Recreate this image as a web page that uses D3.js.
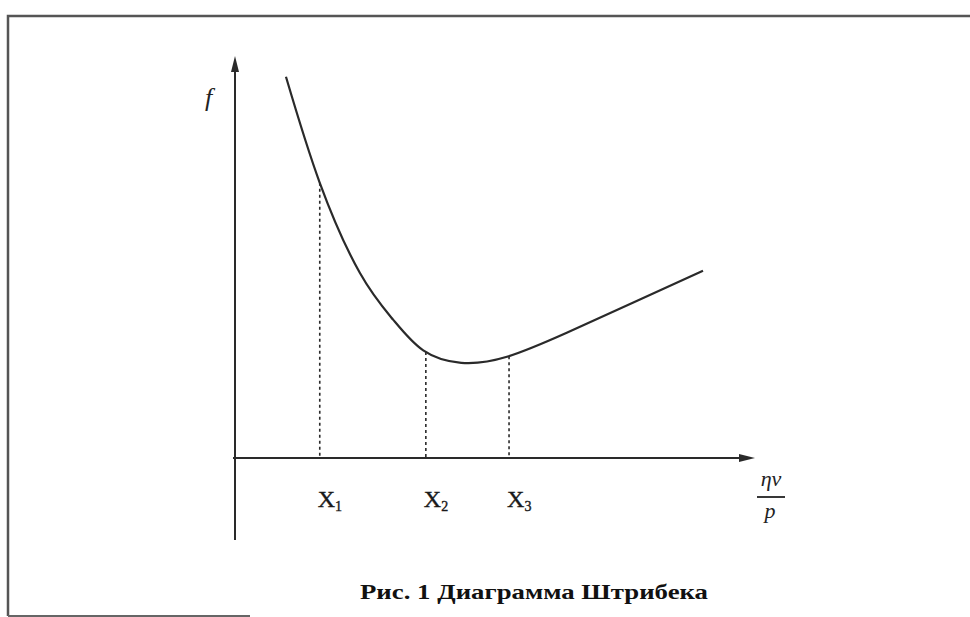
<!DOCTYPE html>
<html><head><meta charset="utf-8">
<script src="https://cdn.jsdelivr.net/npm/d3@7"></script>
<style>html,body{margin:0;padding:0;background:#fff;}svg{display:block;}</style>
</head><body>
<svg id="c" width="970" height="617"></svg>
<script>
// Curve data (ηv/p in arbitrary units 0..100, f in arbitrary units 0..100)
const curveX = [9.8, 16.3, 24.0, 30.4, 36.2, 43.5, 52.3, 63.8, 76.5, 90.0];
const curveF = [95.3, 68.8, 46.3, 34.6, 26.9, 23.8, 25.3, 31.3, 38.8, 46.8];
// Marked points
const markLabels = ["X", "X", "X"];
const markSubs = ["1", "2", "3"];
const markX = [16.3, 36.7, 52.7];
const yLabel = "f";
const xLabelTop = "ηv";
const xLabelBottom = "p";
const caption = "Рис. 1 Диаграмма Штрибека";

const serif = "'Liberation Serif', 'Times New Roman', 'DejaVu Serif', serif";
const svg = d3.select("#c");
const ink = "#2a2a2a";

// frame
svg.append("path").attr("d", "M8,616 L8,16 L970,16")
  .attr("fill", "none").attr("stroke", "#555").attr("stroke-width", 2.5);
svg.append("line").attr("x1", 8).attr("x2", 250).attr("y1", 616).attr("y2", 616)
  .attr("stroke", "#666").attr("stroke-width", 2);

const x = d3.scaleLinear().domain([0, 100]).range([235, 755]);
const y = d3.scaleLinear().domain([0, 100]).range([458, 58]);

// axes
svg.append("line").attr("x1", x(0)).attr("x2", x(0)).attr("y1", 540).attr("y2", y(100) + 8)
  .attr("stroke", ink).attr("stroke-width", 2);
svg.append("path").attr("d", `M${x(0)},${y(100) - 2} L${x(0) - 4},${y(100) + 14} L${x(0) + 4},${y(100) + 14} Z`).attr("fill", ink);
svg.append("line").attr("x1", x(0) - 2).attr("x2", x(100) - 10).attr("y1", y(0)).attr("y2", y(0))
  .attr("stroke", ink).attr("stroke-width", 2);
svg.append("path").attr("d", `M${x(100)},${y(0)} L${x(100) - 16},${y(0) - 4} L${x(100) - 16},${y(0) + 4} Z`).attr("fill", ink);

// curve
const pts = curveX.map((v, i) => [x(v), y(curveF[i])]);
const curvePath = svg.append("path").attr("d", d3.line().curve(d3.curveNatural)(pts))
  .attr("fill", "none").attr("stroke", ink).attr("stroke-width", 2.2);

// find curve y at a given pixel x
function curveYAt(px) {
  const node = curvePath.node();
  const L = node.getTotalLength();
  let lo = 0, hi = L;
  for (let k = 0; k < 40; k++) {
    const mid = (lo + hi) / 2;
    if (node.getPointAtLength(mid).x < px) lo = mid; else hi = mid;
  }
  return node.getPointAtLength(lo).y;
}

// dashed markers
markX.forEach((mx, i) => {
  svg.append("line").attr("x1", x(mx)).attr("x2", x(mx)).attr("y1", curveYAt(x(mx))).attr("y2", y(0))
    .attr("stroke", ink).attr("stroke-width", 1.6).attr("stroke-dasharray", "3,3");
  const t = svg.append("text").attr("x", x(mx) - 2).attr("y", 507)
    .attr("font-family", serif).attr("font-size", 24).attr("fill", "#1a1a1a")
    .attr("stroke", "#1a1a1a").attr("stroke-width", 0.4);
  t.append("tspan").text(markLabels[i]);
  t.append("tspan").attr("font-size", 14).attr("dy", 4).text(markSubs[i]);
});

// axis labels
svg.append("text").attr("x", 205).attr("y", 106).attr("font-family", serif)
  .attr("font-style", "italic").attr("font-size", 26).attr("fill", "#222").text(yLabel);
svg.append("text").attr("x", 771).attr("y", 486).attr("text-anchor", "middle")
  .attr("font-family", serif).attr("font-style", "italic").attr("font-size", 22)
  .attr("fill", "#222").text(xLabelTop);
svg.append("line").attr("x1", 757).attr("x2", 785).attr("y1", 497).attr("y2", 497)
  .attr("stroke", "#222").attr("stroke-width", 1.8);
svg.append("text").attr("x", 770).attr("y", 518).attr("text-anchor", "middle")
  .attr("font-family", serif).attr("font-style", "italic").attr("font-size", 22)
  .attr("fill", "#222").text(xLabelBottom);

// caption
svg.append("text").attr("x", 534).attr("y", 599).attr("text-anchor", "middle")
  .attr("font-family", serif).attr("font-weight", "bold").attr("font-size", 22)
  .attr("fill", "#111").text(caption)
  .each(function () {
    const w = this.getComputedTextLength();
    if (w > 0) d3.select(this).attr("textLength", 348).attr("lengthAdjust", "spacingAndGlyphs");
  });
</script>
</body></html>
